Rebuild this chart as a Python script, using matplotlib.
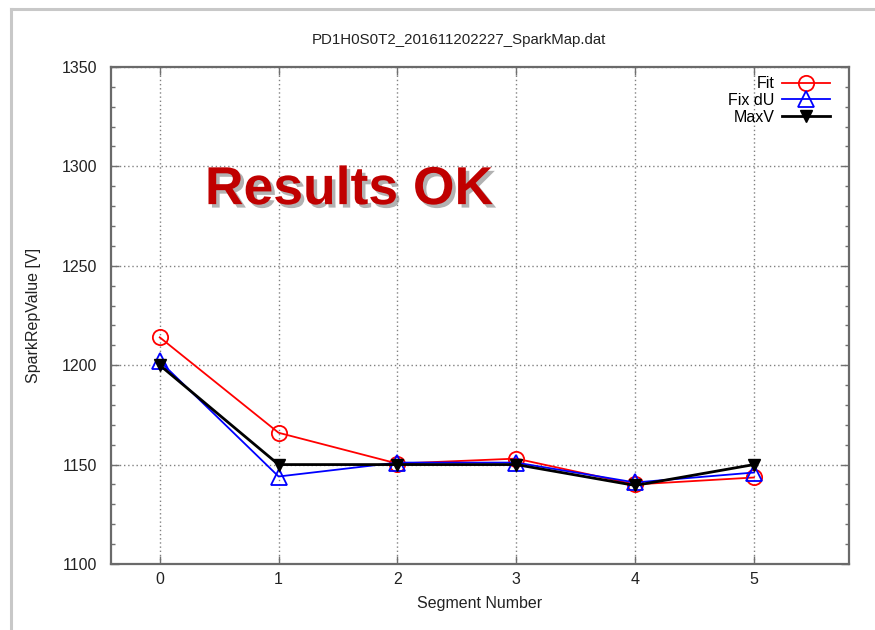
import matplotlib.pyplot as plt
import matplotlib.patheffects as pe
from matplotlib.lines import Line2D
from matplotlib.ticker import MultipleLocator

plt.rcParams['font.family'] = ['Liberation Sans', 'DejaVu Sans']

segments = [0, 1, 2, 3, 4, 5]
fit = [1214, 1166, 1150.5, 1153, 1140, 1143.5]
fix_du = [1202, 1144, 1151, 1151, 1141, 1146]
max_v = [1200, 1150, 1150, 1150, 1139.5, 1150]

fig = plt.figure(figsize=(8.75, 6.3), dpi=100)
ax = fig.add_axes([0.1269, 0.1048, 0.8434, 0.7889])

# window edge lines on the top and left
fig.add_artist(Line2D([0.0125, 1.0], [0.985, 0.985], color='#c8c8c8', lw=2.2))
fig.add_artist(Line2D([0.0125, 0.0125], [0.0, 0.985], color='#c8c8c8', lw=2.2))

ax.plot(segments, fit, color='#ff0000', lw=1.3, marker='o', ms=11,
        mfc='none', mec='#ff0000', mew=1.3, label='Fit', zorder=3)
ax.plot(segments, fix_du, color='#0000ff', lw=1.3, marker='^', ms=11,
        mfc='none', mec='#0000ff', mew=1.3, label='Fix dU', zorder=4)
ax.plot(segments, max_v, color='black', lw=2.0, marker='v', ms=8,
        mfc='black', mec='black', label='MaxV', zorder=5)

ax.set_xlim(-0.41, 5.8)
ax.set_ylim(1100, 1350)
ax.set_xticks(segments)
ax.yaxis.set_major_locator(MultipleLocator(50))
ax.yaxis.set_minor_locator(MultipleLocator(10))
ax.tick_params(which='both', direction='in', top=True, right=True,
               colors='#707070', labelcolor='#222222', labelsize=11.5)
ax.tick_params(which='major', length=6, width=1)
ax.tick_params(which='minor', length=3, width=1)
ax.tick_params(axis='y', pad=10)
ax.tick_params(axis='x', pad=6)
for s in ax.spines.values():
    s.set_color('#6a6a6a')
    s.set_linewidth(1.6)
ax.grid(True, which='major', color='#808080', ls=(0, (1, 2)), lw=1.0)

fig.text(0.5246, 0.937, 'PD1H0S0T2_201611202227_SparkMap.dat', fontsize=10.8,
         color='#222222', ha='center', va='center')
ax.set_xlabel('Segment Number', fontsize=11.5, color='#222222', labelpad=6)
ax.set_ylabel('SparkRepValue [V]', fontsize=11.5, color='#222222', labelpad=15)

leg = ax.legend(loc='upper right', markerfirst=False, frameon=False,
                fontsize=11.5, handlelength=3.0, handletextpad=0.5,
                labelspacing=0.1, borderaxespad=0.2, borderpad=0.2,
                bbox_to_anchor=(0.983, 0.994))

ax.text(0.38, 1281, 'Results OK', fontsize=38.5, fontweight='bold',
        color='#c00000', ha='left', va='baseline', zorder=6,
        path_effects=[pe.withSimplePatchShadow(offset=(2.5, -2.5),
                                               shadow_rgbFace='#808080',
                                               alpha=0.6)])

fig.savefig('out.png', dpi=100)
